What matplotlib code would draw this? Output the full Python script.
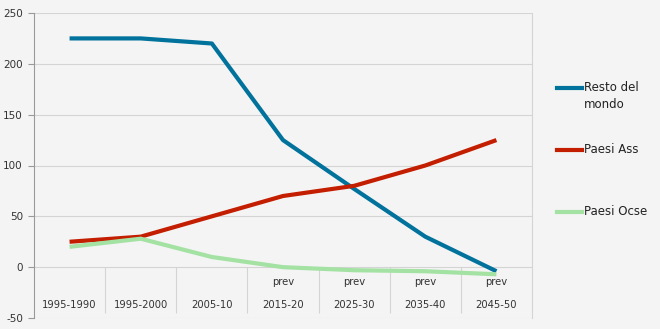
import numpy as np
import matplotlib
matplotlib.use("Agg")
import matplotlib.pyplot as plt
from matplotlib.lines import Line2D

plt.rcParams["font.family"] = ["DejaVu Sans"]
plt.rcParams["axes.unicode_minus"] = False

# dati
periodi = ["1995-1990", "1995-2000", "2005-10", "2015-20", "2025-30", "2035-40", "2045-50"]
previsione = [False, False, False, True, True, True, True]
resto_mondo = [225, 225, 220, 125, 77, 30, -4]
paesi_ass = [25, 30, 50, 70, 80, 100, 125]
paesi_ocse = [20, 28, 10, 0, -3, -4, -7]

serie = [
    ("Resto del\nmondo", resto_mondo, "#00729c"),
    ("Paesi Ass", paesi_ass, "#c41e00"),
    ("Paesi Ocse", paesi_ocse, "#a3e2a3"),
]

sfondo = "#f4f4f4"
griglia = "#d4d4d4"
testo = "#333333"

fig = plt.figure(figsize=(6.6, 3.29), dpi=100, facecolor=sfondo)
ax = fig.add_axes([34 / 660, 11 / 329, 498 / 660, 305 / 329])
ax.set_facecolor(sfondo)

x = np.arange(len(periodi))
for nome, valori, colore in serie:
    ax.plot(x, valori, color=colore, lw=3, solid_capstyle="butt", zorder=3)

ax.set_xlim(-0.5, len(periodi) - 0.5)
ax.set_ylim(-50, 250)
ax.set_yticks(range(-50, 251, 50))
ax.tick_params(axis="y", length=4, color="#999999", labelsize=7.5, labelcolor=testo, pad=4)
ax.set_xticks([])

for v in range(-50, 251, 50):
    ax.axhline(v, color=griglia, lw=0.8, zorder=1)

# separatori categorie
ax.vlines(x[:-1] + 0.5, -45, 0, color=griglia, lw=0.8, zorder=1)

for s in ["top", "bottom"]:
    ax.spines[s].set_visible(False)
ax.spines["left"].set_color("#999999")
ax.spines["right"].set_color(griglia)

for i, p in enumerate(periodi):
    ax.text(i, -37, p, ha="center", va="center", fontsize=7.2, color=testo)
    if previsione[i]:
        ax.text(i, -15, "prev", ha="center", va="center", fontsize=7.2, color=testo)

# legenda
ys = [88, 150, 212]
for (nome, valori, colore), yy in zip(serie, ys):
    yf = 1 - yy / 329
    fig.add_artist(Line2D([557 / 660, 582 / 660], [yf, yf], color=colore, lw=3,
                          transform=fig.transFigure))
    fig.text(584 / 660, yf + 7 / 329, nome, ha="left", va="top", fontsize=8.5,
             color="#222222", linespacing=1.45)

fig.savefig("out.png", dpi=100, facecolor=sfondo)
